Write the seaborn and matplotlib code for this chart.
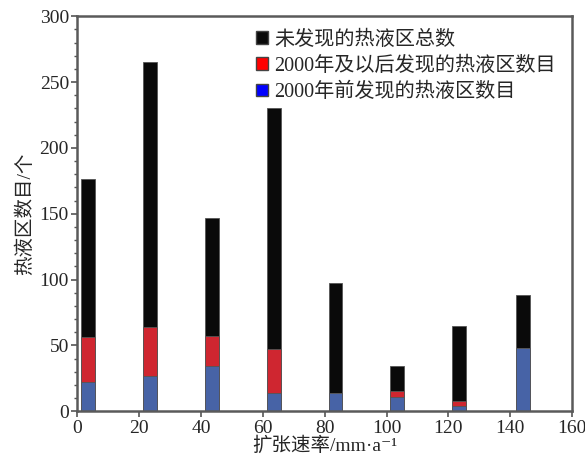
import pandas as pd
import matplotlib.pyplot as plt
import seaborn as sns
import numpy as np
from matplotlib.patches import Patch
from matplotlib.ticker import MultipleLocator

# spreading rate bins (bar positions) and counts
rate = [3.5, 23.5, 43.5, 63.5, 83.5, 103.5, 123.5, 144]
total = [176, 265, 147, 230, 97, 34, 65, 88]
after_2000 = [34, 37, 23, 33, 0, 4, 4, 0]
before_2000 = [22, 27, 34, 14, 14, 11, 4, 48]

labels = ["未发现的热液区总数", "2000年及以后发现的热液区数目", "2000年前发现的热液区数目"]

df = pd.DataFrame({"rate": rate, "total": total,
                   "after": after_2000, "before": before_2000})
df["known"] = df["before"] + df["after"]

sns.set_style("ticks")
plt.rcParams["font.family"] = ["Liberation Serif", "Noto Sans CJK SC", "DejaVu Sans"]

fig = plt.figure(figsize=(5.85, 4.62), dpi=100)
ax = fig.add_axes([0.132, 0.110, 0.846, 0.855])

width = 4.5
edge = "#555555"
# overlapping bars: total at back, cumulative known, then before-2000
ax.bar(df["rate"], df["total"], width=width, color="#0a0a0a", edgecolor=edge, linewidth=0.6)
ax.bar(df["rate"], df["known"], width=width, color="#cf2630", edgecolor=edge, linewidth=0.6)
ax.bar(df["rate"], df["before"], width=width, color="#4763a6", edgecolor=edge, linewidth=0.6)

ax.set_xlim(0, 160)
ax.set_ylim(0, 300)
ax.xaxis.set_major_locator(MultipleLocator(20))
ax.yaxis.set_major_locator(MultipleLocator(50))
ax.yaxis.set_minor_locator(MultipleLocator(10))
ax.tick_params(axis="both", which="major", direction="out", length=4, width=1.2,
               color="#555555", labelsize=14, pad=2)
ax.tick_params(axis="y", which="minor", direction="out", length=2.5, width=1.0, color="#555555")

for s in ax.spines.values():
    s.set_visible(True)
    s.set_color("#5a5a5a")
    s.set_linewidth(1.8)

ax.set_xlabel("扩张速率/mm·a⁻¹", fontsize=14, labelpad=0)
ax.set_ylabel("热液区数目/个", fontsize=14, labelpad=4)

handles = [Patch(facecolor="#0a0a0a", edgecolor="#444444"),
           Patch(facecolor="#ff0000", edgecolor="#444444"),
           Patch(facecolor="#0000ff", edgecolor="#444444")]
ax.legend(handles, labels, loc="upper right", bbox_to_anchor=(0.995, 1.0), frameon=False,
          fontsize=14.5, handlelength=0.6, handleheight=0.6, handletextpad=0.3,
          labelspacing=0.35, borderaxespad=0.3)

fig.savefig("out.png", dpi=100)
